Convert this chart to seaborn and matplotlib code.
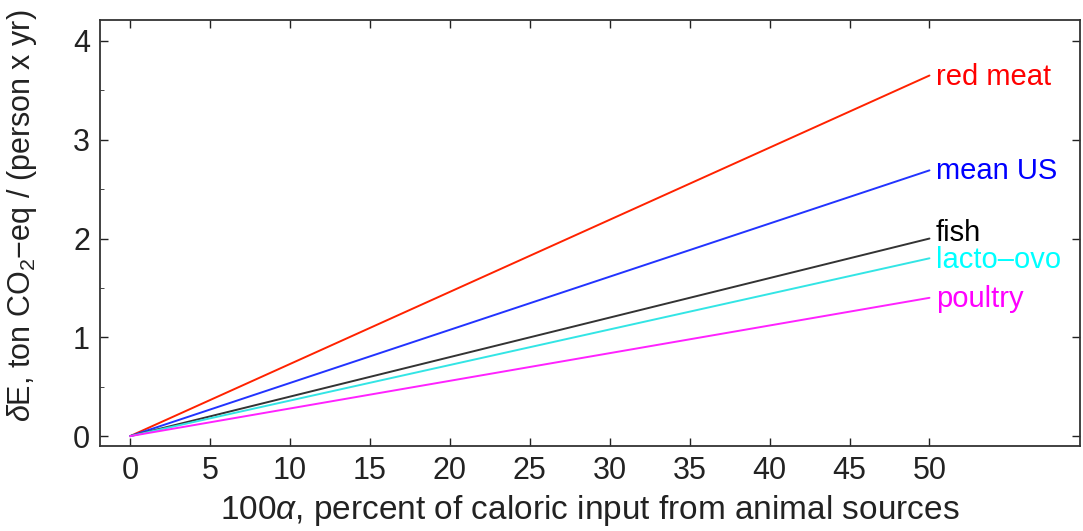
import pandas as pd
import matplotlib.pyplot as plt
import seaborn as sns
from matplotlib.ticker import MultipleLocator

# Emission increase vs percent of calories from animal sources
alpha_pct = [0, 50]
diets = ['red meat', 'mean US', 'fish', 'lacto-ovo', 'poultry']
end_values = [3.65, 2.69, 2.0, 1.8, 1.4]
line_colors = ['#ff2200', '#2233ff', '#333333', '#33e5e5', '#ff22ff']
text_colors = ['#ff0000', '#0000ff', '#000000', '#00ffff', '#ff00ff']
label_names = ['red meat', 'mean US', 'fish', 'lacto\u2013ovo', 'poultry']
label_y = [3.63, 2.68, 2.06, 1.78, 1.39]

rows = []
for d, v in zip(diets, end_values):
    rows.append({'diet': d, 'x': alpha_pct[0], 'y': 0.0})
    rows.append({'diet': d, 'x': alpha_pct[1], 'y': v})
df = pd.DataFrame(rows)

sns.set_style('ticks')
plt.rcParams['font.family'] = ['Liberation Sans', 'DejaVu Sans']
plt.rcParams['mathtext.fontset'] = 'custom'
plt.rcParams['mathtext.rm'] = 'Liberation Sans'
plt.rcParams['mathtext.it'] = 'Liberation Sans:italic'

fig = plt.figure(figsize=(10.83, 5.31), dpi=100)
ax = fig.add_axes([0.092, 0.16, 0.905, 0.802])

sns.lineplot(data=df, x='x', y='y', hue='diet', palette=dict(zip(diets, line_colors)),
             hue_order=diets, lw=1.4, legend=False, ax=ax)

for name, v, c in zip(label_names, label_y, text_colors):
    ax.text(50.4, v, name, color=c, fontsize=21, va='center', ha='left')

ax.set_xlim(-1.9, 59.4)
ax.set_ylim(-0.1, 4.21)
ax.set_xticks(range(0, 51, 5))
ax.set_yticks([0, 1, 2, 3, 4])
ax.yaxis.set_minor_locator(MultipleLocator(0.5))
ax.tick_params(direction='in', top=True, right=True, labelsize=22, length=6, width=1,
               pad=7, colors='#222222')
ax.tick_params(which='minor', direction='in', length=3, left=True, right=False)
for s in ax.spines.values():
    s.set_linewidth(1.3)
    s.set_color('#333333')

ax.set_xlabel(r'100$\alpha$, percent of caloric input from animal sources', fontsize=24,
              labelpad=5, color='#222222')
ax.set_ylabel(r'$\delta$E, ton CO$_2$$-$eq / (person x yr)', fontsize=22, color='#222222')
ax.yaxis.set_label_coords(-0.062, 0.54)

fig.savefig('out.png', dpi=100)
